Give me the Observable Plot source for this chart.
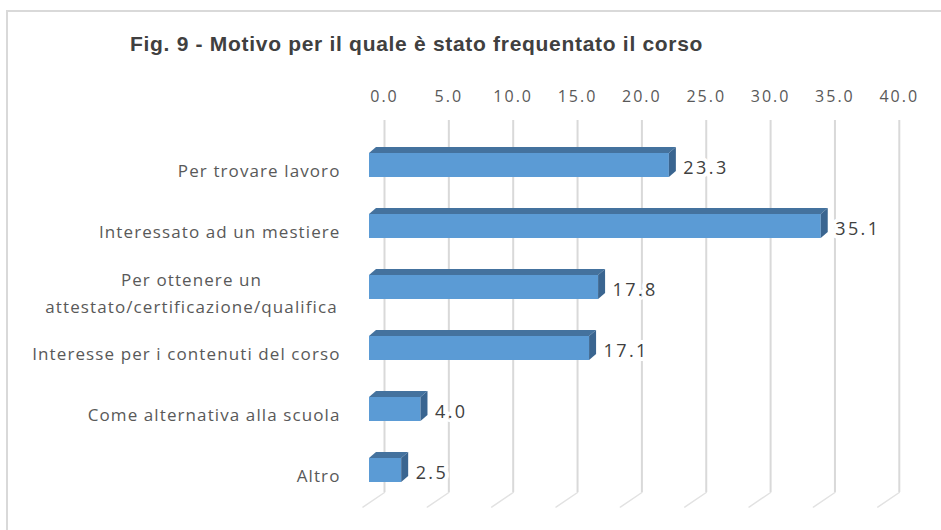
<!DOCTYPE html>
<html>
<head>
<meta charset="utf-8">
<script src="https://cdn.jsdelivr.net/npm/d3@7"></script>
<script src="https://cdn.jsdelivr.net/npm/@observablehq/plot@0.6"></script>
<style>
  body { margin: 0; background: white; }
  #wrap { position: relative; width: 941px; height: 530px; overflow: hidden; background: white; }
  #border { position: absolute; left: 6px; top: 10px; width: 1000px; height: 1000px;
            border-top: 2px solid #d9d9d9; border-left: 2px solid #d9d9d9; }
  #title { position: relative; height: 70px; box-sizing: border-box; padding-left: 130px; padding-top: 32px;
           font-family: "Liberation Sans", Arial, sans-serif; font-weight: bold; font-size: 21px;
           letter-spacing: 0.7px; line-height: 24px; color: #404040; white-space: nowrap; }
  #chart svg { display: block; }
  #chart g[aria-label="x-axis tick label"] text { letter-spacing: 2px; }
  #chart g[aria-description="value labels"] text { letter-spacing: 2.4px; }
  #chart g[aria-description="category labels"] text { letter-spacing: 1.1px; }
</style>
</head>
<body>
<div id="wrap">
  <div id="border"></div>
  <div id="title">Fig. 9 - Motivo per il quale è stato frequentato il corso</div>
  <div id="chart"></div>
</div>
<script>
const categories = [
  "Per trovare lavoro",
  "Interessato ad un mestiere",
  "Per ottenere un\nattestato/certificazione/qualifica",
  "Interesse per i contenuti del corso",
  "Come alternativa alla scuola",
  "Altro"
];
const values = [23.3, 35.1, 17.8, 17.1, 4.0, 2.5];
const tickValues = [0, 5, 10, 15, 20, 25, 30, 35, 40];

const rows = categories.map((cat, i) => ({cat, value: values[i]}));
const single = categories.filter(c => !c.includes("\n"));
const multi = categories.filter(c => c.includes("\n"));

const FRONT = "#5B9BD5", TOP = "#44729e", SIDE = "#3a6590";
const DX = 7, DY = 6;

const chart = Plot.plot({
  width: 941,
  height: 460,
  marginLeft: 369,
  marginRight: 57,
  marginTop: 50,
  marginBottom: 38,
  style: {background: "transparent", fontFamily: "'Open Sans', sans-serif", fontSize: "15px"},
  x: {domain: [0, 40], range: [369, 883.8], label: null, axis: null},
  y: {domain: categories, range: [43.3, 451.2], padding: 0.611, axis: null, label: null},
  marks: [
    Plot.ruleX(tickValues, {x: d => d, dx: 15, stroke: "#d9d9d9", strokeWidth: 2}),
    Plot.vector(tickValues, {
      x: d => d, frameAnchor: "bottom", dx: 15, length: 26, rotate: 236, anchor: "start",
      stroke: "#e2e2e2", strokeWidth: 1.5,
      shape: {draw(context, l) { context.moveTo(0, 0); context.lineTo(0, -l); }}
    }),
    Plot.axisX(tickValues, {
      anchor: "top", dx: 15, tickSize: 0, tickPadding: 19, label: null,
      tickFormat: d => d.toFixed(1), fill: "#595959", fontSize: 16
    }),
    Plot.barX(rows, {
      x: "value", y: "cat", fill: FRONT,
      render(index, scales, vals, dimensions, context, next) {
        const g = next(index, scales, vals, dimensions, context);
        const bw = scales.y.bandwidth();
        const sel = d3.select(g);
        for (const i of index) {
          const x0 = vals.x1[i], x1 = vals.x2[i];
          const y0 = vals.y[i], y1 = y0 + bw;
          sel.append("polygon")
            .attr("points", [[x0, y0], [x1, y0], [x1 + DX, y0 - DY], [x0 + DX, y0 - DY]].join(" "))
            .attr("fill", TOP);
          sel.append("polygon")
            .attr("points", [[x1, y0], [x1 + DX, y0 - DY], [x1 + DX, y1 - DY], [x1, y1]].join(" "))
            .attr("fill", SIDE);
        }
        return g;
      }
    }),
    Plot.text(rows, {
      x: "value", y: "cat", text: d => d.value.toFixed(1), textAnchor: "start", ariaDescription: "value labels",
      dx: 14, dy: 3, fontSize: 18, fill: "#404040", stroke: "white", strokeWidth: 8,
      paintOrder: "stroke"
    }),
    Plot.text(single, {
      y: d => d, frameAnchor: "left", dx: -29, dy: 6.5, textAnchor: "end", ariaDescription: "category labels",
      fontSize: 17, fill: "#595959"
    }),
    Plot.text(multi, {
      y: d => d, frameAnchor: "left", dx: -178, dy: 3, textAnchor: "middle", ariaDescription: "category labels",
      fontSize: 17, lineHeight: 1.59, fill: "#595959"
    })
  ]
});
document.getElementById("chart").appendChild(chart);
</script>
</body>
</html>
